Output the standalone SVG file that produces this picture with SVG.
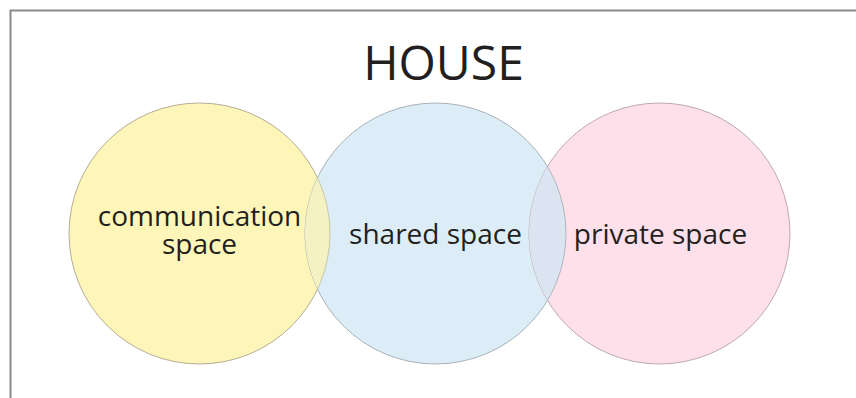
<svg xmlns="http://www.w3.org/2000/svg" width="856" height="398" viewBox="0 0 856 398">
<style>
.lbl{font-family:"Open Sans","Liberation Sans",sans-serif;font-size:28px;fill:#231f20;text-anchor:middle}
.ttl{font-family:"Open Sans","Liberation Sans",sans-serif;font-size:48px;fill:#231f20;text-anchor:middle}
</style>
<defs>
<clipPath id="clipPink"><circle cx="659.5" cy="233.5" r="130.5"/></clipPath>
<clipPath id="clipBlue"><circle cx="435.5" cy="233.5" r="130.5"/></clipPath>
</defs>
<rect x="0" y="0" width="856" height="398" fill="#ffffff"/>
<path d="M10.5 398 V10.5 H856" fill="none" stroke="#8a8a8a" stroke-width="2"/>
<g id="title"><text class="ttl" x="443.5" y="80">HOUSE</text></g>
<g id="communication-space">
<circle cx="199.5" cy="233.5" r="130.5" fill="#fef6b9" stroke="#b5ad95" stroke-width="1"/>
</g>
<g id="shared-space">
<circle cx="435.5" cy="233.5" r="130.5" fill="#dcedf7" stroke="#a9b1b8" stroke-width="1"/>
</g>
<g id="private-space">
<circle cx="659.5" cy="233.5" r="130.5" fill="#fde0ea" stroke="#bca9b1" stroke-width="1"/>
</g>
<g id="overlaps">
<circle cx="435.5" cy="233.5" r="130.5" fill="#dbe4f1" stroke="#b0b4bc" stroke-width="1" clip-path="url(#clipPink)"/>
<circle cx="199.5" cy="233.5" r="130.5" fill="#f4f2c2" stroke="#c8c6a8" stroke-width="1" clip-path="url(#clipBlue)"/>
</g>
<g id="labels">
<text class="lbl" x="199.5" y="226">communication</text>
<text class="lbl" x="199.5" y="254">space</text>
<text class="lbl" x="435.5" y="244">shared space</text>
<text class="lbl" x="660.5" y="244">private space</text>
</g>
</svg>
